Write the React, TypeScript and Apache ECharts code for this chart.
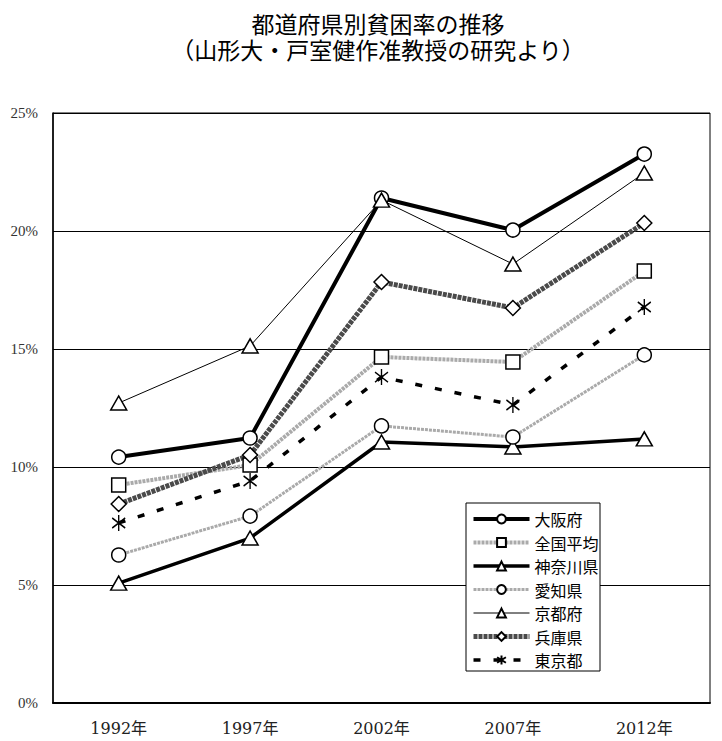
import React, { useEffect, useRef } from "react";
import * as echarts from "echarts";

const years = ["1992年", "1997年", "2002年", "2007年", "2012年"];
const osaka = [10.42, 11.23, 21.4, 20.04, 23.26];
const national = [9.24, 10.08, 14.66, 14.45, 18.3];
const kanagawa = [5.08, 6.99, 11.06, 10.85, 11.19];
const aichi = [6.27, 7.92, 11.74, 11.27, 14.75];
const kyoto = [12.71, 15.13, 21.31, 18.6, 22.46];
const hyogo = [8.43, 10.51, 17.84, 16.74, 20.34];
const tokyo = [7.63, 9.41, 13.81, 12.63, 16.78];
const yTicks = [0, 5, 10, 15, 20, 25];

const titleLine1 = "都道府県別貧困率の推移";
const titleLine2 = "（山形大・戸室健作准教授の研究より）";

const ASTERISK = "path://M7,0 L7,16 M0,3 L14,13 M0,13 L14,3";

export default function App() {
  const ref = useRef<HTMLDivElement>(null);
  useEffect(() => {
    if (!ref.current) return;
    const chart = echarts.init(ref.current, null, { renderer: "svg" });
    const markerStyle = { color: "#ffffff", borderColor: "#000000", borderWidth: 1.5 };
    const styles: Record<string, any> = {
      大阪府: { color: "#000", width: 4 },
      全国平均: { color: "#aaaaaa", width: 4, type: [3, 1] },
      神奈川県: { color: "#000", width: 3.5 },
      愛知県: { color: "#aaaaaa", width: 3, type: [3, 1] },
      京都府: { color: "#000", width: 1 },
      兵庫県: { color: "#4a4a4a", width: 5, type: [4, 1] },
      東京都: { color: "#000", width: 3.5, type: [7, 13] },
    };
    const mk = (
      name: string,
      data: number[],
      symbol: string,
      symbolSize: number | number[]
    ) => ({
      name,
      type: "line",
      data,
      symbol,
      symbolSize,
      showAllSymbol: true,
      itemStyle: markerStyle,
      lineStyle: styles[name],
      emphasis: { disabled: true },
      z: 3,
    });
    const legendNames = ["大阪府", "全国平均", "神奈川県", "愛知県", "京都府", "兵庫県", "東京都"];
    const titleFont = "'Liberation Sans', 'Noto Sans CJK JP', sans-serif";
    chart.setOption({
      animation: false,
      backgroundColor: "#ffffff",
      graphic: [
        {
          type: "text",
          x: 378,
          y: 25,
          style: {
            text: titleLine1,
            fontSize: 23,
            fontFamily: titleFont,
            fill: "#000",
            textAlign: "center",
            textVerticalAlign: "middle",
          },
        },
        {
          type: "text",
          x: 378,
          y: 51,
          style: {
            text: titleLine2,
            fontSize: 23,
            fontFamily: titleFont,
            fill: "#000",
            textAlign: "center",
            textVerticalAlign: "middle",
          },
        },
        {
          type: "rect",
          z: 3,
          shape: { x: 466, y: 503, width: 134, height: 168 },
          style: { fill: "#ffffff", stroke: "#000000", lineWidth: 1 },
        },
      ],
      legend: {
        orient: "vertical",
        left: 471,
        top: 511,
        padding: 0,
        itemWidth: 56,
        itemHeight: 11,
        itemGap: 7.5,
        z: 5,
        textStyle: {
          fontSize: 16,
          lineHeight: 16,
          color: "#000",
          fontFamily: "'Noto Sans CJK JP', sans-serif",
        },
        data: legendNames.map((n) => ({ name: n, lineStyle: styles[n] })),
      },
      grid: {
        left: 53,
        right: 12,
        top: 113,
        bottom: 38,
        show: true,
        borderColor: "#000",
        borderWidth: 1,
        backgroundColor: "transparent",
      },
      xAxis: {
        type: "category",
        data: years,
        boundaryGap: true,
        axisLine: { lineStyle: { color: "#000", width: 2 } },
        axisTick: { inside: true, length: 4, lineStyle: { color: "#000", width: 1 } },
        axisLabel: {
          margin: 17,
          fontSize: 16,
          color: "#222",
          fontFamily: "'DejaVu Serif', 'Noto Sans CJK JP', serif",
        },
      },
      yAxis: {
        type: "value",
        min: yTicks[0],
        max: yTicks[yTicks.length - 1],
        interval: 5,
        axisLine: { show: true, lineStyle: { color: "#000", width: 1.5 } },
        axisTick: { show: false },
        splitLine: { lineStyle: { color: "#000", width: 1 } },
        axisLabel: {
          margin: 15,
          fontSize: 15,
          color: "#333",
          fontFamily: "'Liberation Serif', serif",
          formatter: "{value}%",
        },
      },
      series: [
        mk("大阪府", osaka, "circle", 14),
        mk("全国平均", national, "rect", 14),
        mk("神奈川県", kanagawa, "triangle", [16, 14]),
        mk("愛知県", aichi, "circle", 14),
        mk("京都府", kyoto, "triangle", [16, 14]),
        mk("兵庫県", hyogo, "diamond", [15, 15]),
        mk("東京都", tokyo, ASTERISK, [13, 16]),
      ],
    });
    return () => chart.dispose();
  }, []);
  return (
    <div
      ref={ref}
      style={{ position: "absolute", left: 0, top: 0, width: 722, height: 741 }}
    />
  );
}
